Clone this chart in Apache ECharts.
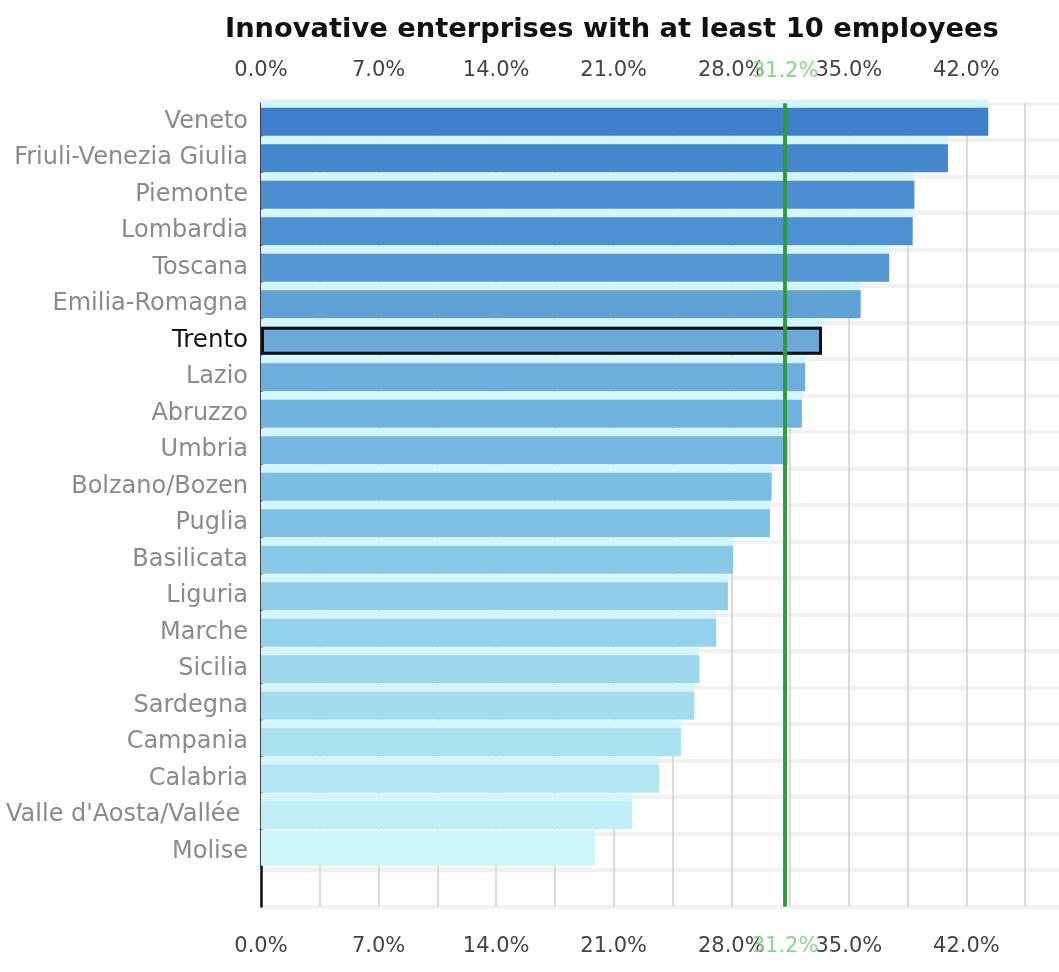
<!DOCTYPE html>
<html>
<head>
<meta charset="utf-8">
<script src="https://cdn.jsdelivr.net/npm/echarts@6/dist/echarts.min.js"></script>
<style>
html,body{margin:0;padding:0;background:#fff;}
#chart{width:1059px;height:972px;}
</style>
</head>
<body>
<div id="chart"></div>
<script>
const titleText = 'Innovative enterprises with at least 10 employees';
const regions = ['Veneto','Friuli-Venezia Giulia','Piemonte','Lombardia','Toscana','Emilia-Romagna','Trento','Lazio','Abruzzo','Umbria','Bolzano/Bozen','Puglia','Basilicata','Liguria','Marche','Sicilia','Sardegna','Campania','Calabria',"Valle d'Aosta/Vallée d'Aoste",'Molise',''];
const values = [43.3,40.9,38.9,38.8,37.4,35.7,33.4,32.4,32.2,31.35,30.4,30.3,28.1,27.8,27.1,26.1,25.8,25.0,23.7,22.1,19.9,null];
const barColors = ['#3d7fca','#4588ce','#4b8fd0','#4c91d1','#5398d3','#5fa2d6','#6ca9d9','#6daedd','#70b1de','#75b7e0','#7bbde3','#7ec0e4','#88c9e8','#8ecdea','#94d2eb','#9cd8ed','#a2dcef','#aae1f1','#b3e7f3','#bfeef6','#cbf6fa','#ffffff'];
const highlight = 'Trento';
const referenceValue = 31.2;
const labelSteps = [0,7,14,21,28,35,42];

const chart = echarts.init(document.getElementById('chart'));
const fmt = v => labelSteps.some(s => Math.abs(s - v) < 1e-6) ? v.toFixed(1) + '%' : '';

const barData = values.map((v, i) => ({ value: v, itemStyle: { color: barColors[i] } }));
const borderData = values.map((v, i) => regions[i] === highlight ? v : null);

const xCommon = {
  type: 'value', min: 0, max: 49, interval: 3.5, gridIndex: 0,
  axisLine: { show: false }, axisTick: { show: false },
  axisLabel: { formatter: fmt, color: '#444', fontSize: 21, fontFamily: 'DejaVu Sans' }
};

chart.setOption({
  animation: false,
  backgroundColor: '#fff',
  title: {
    text: titleText, left: 220, top: 11,
    textStyle: { fontFamily: 'DejaVu Sans', fontWeight: 'bold', fontSize: 27.3, color: '#111' }
  },
  grid: { left: 261, top: 103.5, width: 823, height: 803, containLabel: false, outerBoundsMode: 'none' },
  xAxis: [
    Object.assign({}, xCommon, { position: 'top',
      axisLabel: Object.assign({}, xCommon.axisLabel, { margin: 22 }),
      splitLine: { show: true, lineStyle: { color: '#cfcfcf', width: 1.5 } } }),
    Object.assign({}, xCommon, { position: 'bottom',
      axisLabel: Object.assign({}, xCommon.axisLabel, { margin: 30 }),
      splitLine: { show: false } })
  ],
  yAxis: {
    type: 'category', data: regions, inverse: true,
    axisLine: { show: true, lineStyle: { color: '#111', width: 2.5 } },
    axisTick: { show: false },
    splitLine: { show: true, lineStyle: { color: '#f1f1f1', width: 4 } },
    axisLabel: {
      color: '#8a8a8a', fontSize: 24, fontFamily: 'DejaVu Sans', margin: 13,
      width: 256, overflow: 'truncate', ellipsis: '',
      formatter: v => v === highlight ? '{hl|' + v + '}' : v,
      rich: { hl: { color: '#151515', fontSize: 24.5, fontFamily: 'DejaVu Sans' } }
    }
  },
  series: [{
    type: 'bar', data: barData, barWidth: 28, xAxisIndex: 0,
    itemStyle: { shadowColor: '#d4f5fc', shadowOffsetY: -8, shadowBlur: 0 },
    markLine: {
      silent: true, symbol: 'none',
      lineStyle: { color: '#2e9a3c', width: 3.5, type: 'solid' },
      label: { color: '#86d886', fontSize: 21, fontFamily: 'DejaVu Sans', formatter: referenceValue.toFixed(1) + '%' },
      data: [
        { xAxis: referenceValue, label: { position: 'start', distance: 21 } },
        { xAxis: referenceValue, label: { position: 'end', distance: 30 } }
      ]
    }
  }, {
    type: 'bar', data: borderData, barWidth: 28, barGap: '-100%', xAxisIndex: 0, z: 3,
    itemStyle: { color: 'rgba(0,0,0,0)', borderColor: '#111', borderWidth: 3 },
    silent: true
  }]
});
</script>
</body>
</html>
